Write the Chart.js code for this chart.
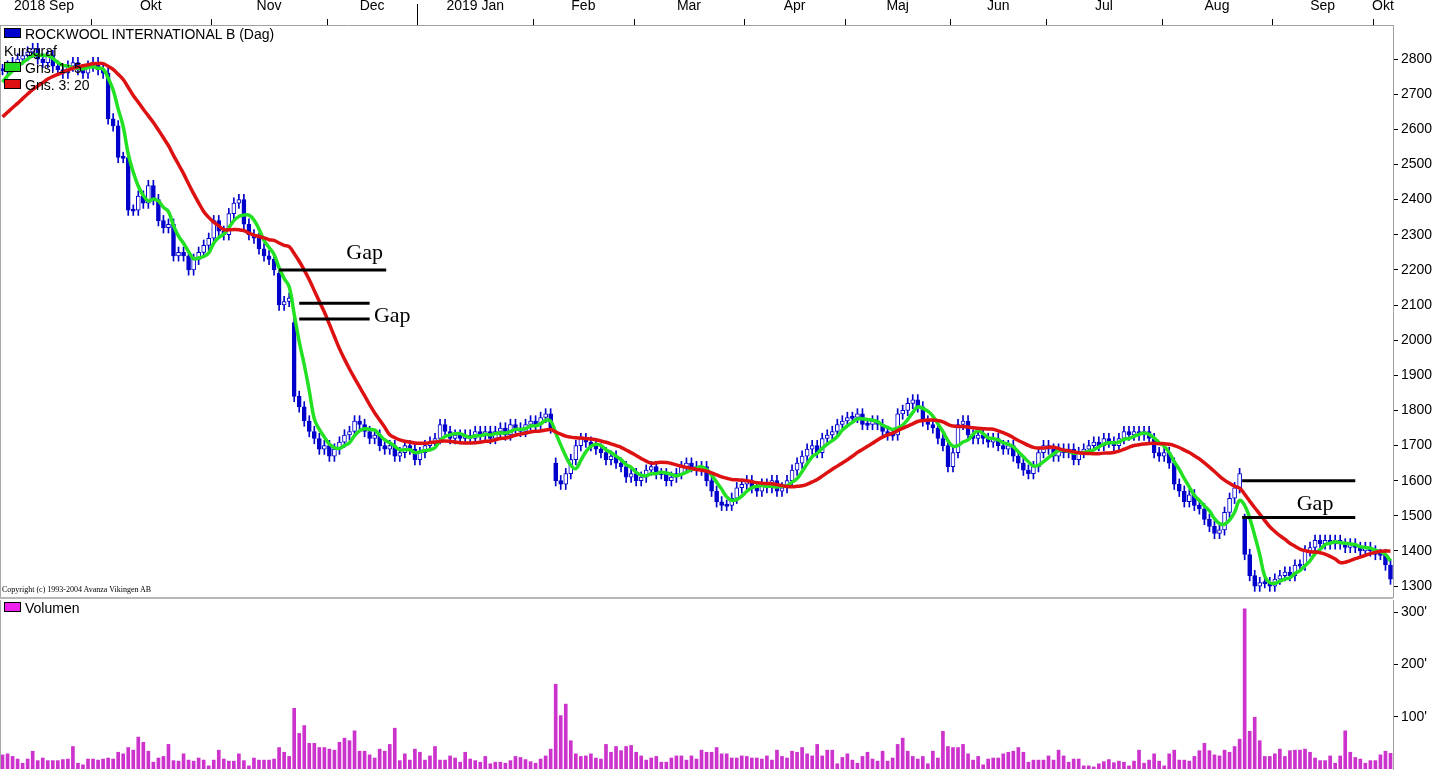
<!DOCTYPE html>
<html><head><meta charset="utf-8">
<script src="https://cdn.jsdelivr.net/npm/chart.js@4.4.1/dist/chart.umd.min.js"></script>
<style>
html,body{margin:0;padding:0;background:#fff;width:1440px;height:771px;overflow:hidden;font-family:"Liberation Sans",Arial,sans-serif}
#p{position:absolute;left:0;top:0;width:1440px;height:598px}
#v{position:absolute;left:0;top:600px;width:1440px;height:171px}
#sep{position:absolute;left:0;top:597px;width:1393px;height:2px;background:#b8b8b8}
.lg{position:absolute;left:4px;font-size:14px;color:#000;line-height:16px;white-space:nowrap}
.bx{display:inline-block;width:15px;height:8px;border:1px solid #000;margin-right:4px;vertical-align:1px}
#copy{position:absolute;left:2px;top:585px;font-family:"Liberation Serif",serif;font-size:8px;color:#000}
</style></head><body>
<div id="p"><canvas id="cp"></canvas></div>
<div id="v"><canvas id="cv"></canvas></div>
<div id="sep"></div>
<div class="lg" style="top:26px"><span class="bx" style="background:#0000cc"></span>ROCKWOOL INTERNATIONAL B (Dag)</div>
<div class="lg" style="top:43px">Kursgraf</div>
<div class="lg" style="top:60px"><span class="bx" style="background:#22dd22"></span>Gns. 1: 5</div>
<div class="lg" style="top:77px"><span class="bx" style="background:#dd1111"></span>Gns. 3: 20</div>
<div class="lg" style="top:600px"><span class="bx" style="background:#ee22ee"></span>Volumen</div>
<div id="copy">Copyright (c) 1993-2004 Avanza Vikingen AB</div>
<script>
const priorCloses = [2520,2530,2550,2540,2560,2580,2600,2590,2610,2630,2650,2640,2660,2680,2700,2690,2720,2740,2750];
const closes = [2770,2780,2790,2800,2810,2820,2830,2800,2790,2810,2780,2770,2760,2780,2790,2770,2760,2780,2790,2770,2760,
2630,2610,2520,2520,2370,2370,2410,2390,2440,2400,2340,2320,2330,2240,2250,2240,2200,2230,2250,2270,2290,2340,2310,2300,2360,2390,2400,2330,2300,2290,2260,2240,2230,2200,2100,2110,2120,
1840,1810,1770,1740,1720,1690,1700,1670,1690,1710,
1730,1740,1770,1760,1740,1720,1730,1700,1690,1700,
1670,1680,1700,1690,1660,1680,1700,1710,1720,1760,
1740,1720,1730,1720,1730,1720,1740,1730,1740,1720,
1740,1750,1730,1760,1750,1740,1760,1770,1760,1780,
1790,1750,1600,1590,1620,1660,1700,1720,1710,1700,
1690,1680,1660,1670,1650,1640,1610,1620,1600,1610,
1630,1640,1620,1620,1600,1610,1620,1640,1650,1640,
1630,1640,1600,1570,1540,1530,1530,1550,1580,1590,
1600,1580,1570,1590,1580,1600,1570,1580,1600,1630,
1650,1670,1690,1700,1680,1720,1730,1740,1760,1770,
1780,1780,1790,1760,1760,1770,1760,1740,1730,1730,
1790,1800,1820,1830,1810,1770,1760,1750,1720,1700,
1640,1680,1760,1770,1730,1720,1730,1720,1710,1720,
1700,1690,1700,1670,1650,1630,1620,1640,1680,1700,
1690,1670,1690,1680,1690,1660,1680,1690,1700,1710,
1700,1720,1710,1700,1720,1740,1730,1740,1730,1740,
1720,1680,1670,1680,1650,1590,1570,1540,1560,1530,
1520,1490,1470,1450,1460,1510,1550,1580,1620,1390,
1330,1300,1310,1310,1300,1320,1330,1340,1330,1360,
1360,1400,1410,1430,1420,1430,1420,1430,1420,1410,
1420,1410,1400,1410,1400,1390,1390,1360,1320];
const gapDays = [55,58,110,247];
const gapOpenPrices = [2190,2050,1650,1490];
const volumes = [27,29,24,19,11,19,34,16,21,16,16,16,18,19,43,11,8,19,19,17,19,21,19,32,29,41,36,61,51,34,13,21,24,47,16,15,29,17,15,21,17,6,17,36,19,15,15,29,16,6,21,17,17,17,19,41,32,24,116,68,83,49,49,41,41,38,36,51,59,54,73,34,34,27,21,38,34,47,78,16,29,17,38,32,17,25,43,17,17,25,21,13,32,19,16,13,24,10,13,13,11,16,24,22,18,14,11,19,25,38,162,102,124,54,29,24,25,29,21,19,47,32,43,35,43,45,32,25,17,21,24,13,13,21,25,25,17,
25,19,36,32,32,41,29,29,21,21,25,24,21,21,19,25,17,36,24,21,34,32,41,29,25,47,25,36,36,10,22,
29,17,11,24,32,19,15,34,15,21,47,59,34,24,19,24,10,34,21,72,43,41,41,47,29,17,24,8,19,21,
21,29,32,34,41,32,13,17,17,17,25,17,36,25,13,19,19,6,6,4,10,14,18,12,15,13,6,15,36,11,17,29,15,6,
29,36,17,17,15,24,35,49,35,27,25,36,32,43,57,306,
72,99,54,24,24,29,38,24,35,36,36,38,32,21,16,16,25,11,25,73,32,22,19,11,16,16,27,34,30,20,22,30,33];
const monthLabels = ['2018 Sep','Okt','Nov','Dec','2019 Jan','Feb','Mar','Apr','Maj','Jun','Jul','Aug','Sep','Okt'];
const monthStarts = [18,42,65,83,106,126,148,168,189,208,231,253,273];
const yearStartDay = 83;
const priceTicks = [1300,1400,1500,1600,1700,1800,1900,2000,2100,2200,2300,2400,2500,2600,2700,2800];
const volTicks = [100,200,300];
const gapLevels = [2200,2105,2060,1600,1495];
const gapFrom = [55,59,59,246.5,246.5];
const gapTo = [76.3,73,73,269,269];
const gapTextLevels = [2248,2068,1533];
const gapTextDays = [72,77.5,261];

const N = closes.length;
const opens = closes.map((c,i)=>{const g=gapDays.indexOf(i); return g>=0?gapOpenPrices[g]:(i?closes[i-1]:c);});
const allCloses = priorCloses.concat(closes), P = priorCloses.length;
function ma(n){return closes.map((c,i)=>{const j=i+P;const s=Math.max(0,j-n+1);const a=allCloses.slice(s,j+1);return a.reduce((x,y)=>x+y,0)/a.length;});}
const ma5 = ma(5), ma20 = ma(20);
const BLUE='#0000cc';
const bodies = closes.map((c,i)=>{let lo=Math.min(c,opens[i]),hi=Math.max(c,opens[i]);if(hi-lo<6){lo-=3;hi+=3;}return {x:i,y:[lo,hi]};});
const wicks = closes.map((c,i)=>({x:i,y:[Math.min(c,opens[i])-15,Math.max(c,opens[i])+15]}));
const bodyBg = closes.map((c,i)=>c>opens[i]?'#ffffff':BLUE);
const xMin=-0.5, xMax=N-0.5;
const FONT={family:'"Liberation Sans", Arial, sans-serif',size:14};

const decor={id:'decor',afterDraw(ch){
  const c=ch.ctx,a=ch.chartArea,x=ch.scales.x,y=ch.scales.y;
  c.save();
  c.strokeStyle='#a8a8a8';c.lineWidth=1;
  c.beginPath();c.moveTo(a.left+0.5,a.top);c.lineTo(a.left+0.5,a.bottom);c.stroke();
  if(ch.canvas.id==='cp'){
    c.strokeStyle='#000';
    monthStarts.forEach(d=>{const px=Math.round(x.getPixelForValue(d-0.5))+0.5;c.beginPath();c.moveTo(px,a.top-6);c.lineTo(px,a.top);c.stroke();});
    const yx=Math.round(x.getPixelForValue(yearStartDay-0.5))+0.5;
    c.beginPath();c.moveTo(yx,4);c.lineTo(yx,a.top);c.stroke();
    c.lineWidth=3;c.strokeStyle='#000';
    gapLevels.forEach((lv,k)=>{const py=y.getPixelForValue(lv);c.beginPath();c.moveTo(x.getPixelForValue(gapFrom[k]),py);c.lineTo(x.getPixelForValue(gapTo[k]),py);c.stroke();});
    c.fillStyle='#000';c.font='22px "Liberation Serif", serif';c.textAlign='center';c.textBaseline='middle';
    gapTextLevels.forEach((lv,k)=>c.fillText('Gap',x.getPixelForValue(gapTextDays[k]),y.getPixelForValue(lv)));
  }
  c.restore();
}};
function fitY(s){s.width=47;s.paddingTop=0;s.paddingBottom=0;}

new Chart(document.getElementById('cp'),{
  type:'bar',
  data:{datasets:[
    {type:'line',data:ma20.map((v,i)=>({x:i,y:v})),borderColor:'#dd1111',borderWidth:3.5,pointRadius:0,tension:0.4,order:0},
    {type:'line',data:ma5.map((v,i)=>({x:i,y:v})),borderColor:'#22e022',borderWidth:3.5,pointRadius:0,tension:0.4,order:0},
    {data:bodies,backgroundColor:bodyBg,borderColor:BLUE,borderWidth:1,borderSkipped:false,barThickness:4,grouped:false,order:1},
    {data:wicks,backgroundColor:BLUE,borderWidth:0,barThickness:1,grouped:false,order:2}
  ]},
  options:{responsive:true,maintainAspectRatio:false,animation:false,events:[],
    layout:{padding:{left:0,right:0,top:0,bottom:1}},
    plugins:{legend:{display:false},tooltip:{enabled:false}},
    scales:{
      x:{type:'linear',position:'top',min:xMin,max:xMax,offset:false,
        afterBuildTicks(s){s.ticks=monthLabels.map((l,i)=>{const a=i?monthStarts[i-1]:-0.5;const b=i<monthStarts.length?monthStarts[i]:N;return {value:(a+b)/2-0.5};});},
        afterFit(s){s.height=25;s.paddingLeft=0;s.paddingRight=0;},
        ticks:{autoSkip:false,maxRotation:0,padding:2,color:'#000',font:FONT,callback:(v,i)=>monthLabels[i]},
        grid:{display:false},border:{display:true,color:'#a0a0a0'}},
      y:{position:'right',min:1269,max:2897,
        afterBuildTicks(s){s.ticks=priceTicks.map(v=>({value:v}));},
        afterFit:fitY,
        ticks:{color:'#000',font:FONT,padding:3,callback:v=>String(v)},
        grid:{drawOnChartArea:false,tickLength:5,color:'#000'},border:{display:true,color:'#a0a0a0'}}
    }},
  plugins:[decor]
});

new Chart(document.getElementById('cv'),{
  type:'bar',
  data:{datasets:[{data:volumes.slice(0,N).map((v,i)=>({x:i,y:v})),backgroundColor:'#cc33cc',borderWidth:0,barThickness:3}]},
  options:{responsive:true,maintainAspectRatio:false,animation:false,events:[],
    layout:{padding:{top:0,bottom:2}},
    plugins:{legend:{display:false},tooltip:{enabled:false}},
    scales:{
      x:{type:'linear',display:false,min:xMin,max:xMax,offset:false},
      y:{position:'right',min:0,max:323,
        afterBuildTicks(s){s.ticks=volTicks.map(v=>({value:v}));},
        afterFit:fitY,
        ticks:{color:'#000',font:FONT,padding:3,callback:v=>v+"'"},
        grid:{drawOnChartArea:false,tickLength:5,color:'#000'},border:{display:true,color:'#a0a0a0'}}
    }},
  plugins:[decor]
});
</script></body></html>
